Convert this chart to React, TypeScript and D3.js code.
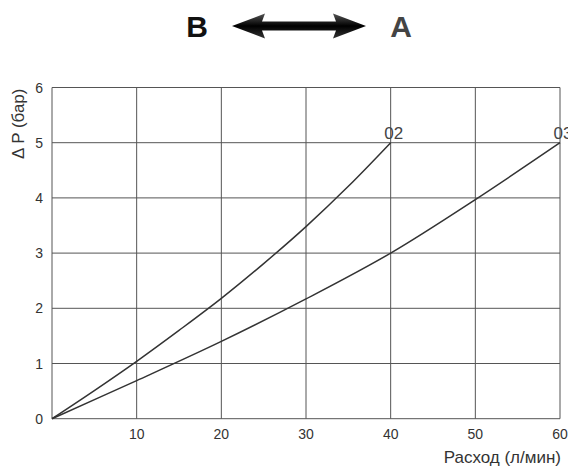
import React from "react";
import * as d3 from "d3";

const flowTicks = [10, 20, 30, 40, 50, 60];
const pressureTicks = [0, 1, 2, 3, 4, 5, 6];
const gridX = [0, 10, 20, 30, 40, 50, 60];
const flow02 = [0, 5, 10, 15, 20, 25, 30, 35, 40];
const dp02 = [0, 0.51, 1.04, 1.6, 2.18, 2.81, 3.48, 4.21, 5.0];
const flow03 = [0, 10, 20, 30, 40, 50, 60];
const dp03 = [0, 0.69, 1.4, 2.17, 3.0, 3.97, 5.0];
const seriesLabels = ["02", "03"];
const yTitle = "Δ P (бар)";
const xTitle = "Расход (л/мин)";
const leftLetter = "B";
const rightLetter = "A";

const W = 568;
const H = 468;
const left = 52;
const right = 560;
const top = 87.5;
const bottom = 418.7;

export default function App() {
  const x = d3.scaleLinear().domain([0, 60]).range([left, right]);
  const y = d3.scaleLinear().domain([0, 6]).range([bottom, top]);
  const line = d3
    .line<[number, number]>()
    .x((d) => x(d[0]))
    .y((d) => y(d[1]))
    .curve(d3.curveCatmullRom.alpha(0.5));
  const p02 = line(flow02.map((f, i) => [f, dp02[i]]) as [number, number][]) || "";
  const p03 = line(flow03.map((f, i) => [f, dp03[i]]) as [number, number][]) || "";
  const font = "'Liberation Sans', Arial, sans-serif";

  // arrow geometry
  const ay = 26;
  const ax0 = 232;
  const ax1 = 366;
  const headL = 33;
  const headH = 12.5;
  const shaft = 4.5;
  const arrow = [
    [ax0, ay],
    [ax0 + headL, ay - headH],
    [ax0 + headL - 3, ay - shaft],
    [ax1 - headL + 3, ay - shaft],
    [ax1 - headL, ay - headH],
    [ax1, ay],
    [ax1 - headL, ay + headH],
    [ax1 - headL + 3, ay + shaft],
    [ax0 + headL - 3, ay + shaft],
    [ax0 + headL, ay + headH],
  ]
    .map((p) => p.join(","))
    .join(" ");

  return (
    <svg
      width={W}
      height={H}
      style={{ position: "absolute", left: 0, top: 0, background: "#fff" }}
      fontFamily={font}
    >
      <defs>
        <linearGradient id="ag" x1="0" y1="0" x2="0" y2="1">
          <stop offset="0" stopColor="#555" />
          <stop offset="0.5" stopColor="#000" />
          <stop offset="1" stopColor="#333" />
        </linearGradient>
      </defs>
      {/* header */}
      <text x={197} y={37} fontSize={30} fontWeight="bold" textAnchor="middle" fill="#111">
        {leftLetter}
      </text>
      <polygon points={arrow} fill="url(#ag)" />
      <text x={401} y={37} fontSize={30} fontWeight="bold" textAnchor="middle" fill="#444">
        {rightLetter}
      </text>

      {/* grid */}
      {gridX.map((v) => (
        <line key={"gx" + v} x1={x(v)} x2={x(v)} y1={y(0)} y2={y(6)} stroke="#555" strokeWidth={1} />
      ))}
      {pressureTicks.map((v) => (
        <line key={"gy" + v} x1={x(0)} x2={x(60)} y1={y(v)} y2={y(v)} stroke="#555" strokeWidth={1} />
      ))}

      {/* curves */}
      <path d={p02} fill="none" stroke="#333" strokeWidth={1.5} />
      <path d={p03} fill="none" stroke="#333" strokeWidth={1.5} />
      <text x={x(40) + 3} y={y(5) - 4} fontSize={17} textAnchor="middle" fill="#444">
        {seriesLabels[0]}
      </text>
      <text x={x(60) + 3} y={y(5) - 4} fontSize={17} textAnchor="middle" fill="#444">
        {seriesLabels[1]}
      </text>

      {/* y ticks */}
      {pressureTicks.map((v) => (
        <text key={"yt" + v} x={43} y={y(v) + 5} fontSize={14} textAnchor="end" fill="#333">
          {v}
        </text>
      ))}
      {/* x ticks */}
      {flowTicks.map((v) => (
        <text key={"xt" + v} x={x(v)} y={439} fontSize={14} textAnchor="middle" fill="#333">
          {v}
        </text>
      ))}

      {/* titles */}
      <text
        transform={`translate(24,${159}) rotate(-90)`}
        fontSize={17}
        textAnchor="start"
        fill="#333"
      >
        {yTitle}
      </text>
      <text x={561} y={463} fontSize={17} textAnchor="end" fill="#333">
        {xTitle}
      </text>
    </svg>
  );
}
